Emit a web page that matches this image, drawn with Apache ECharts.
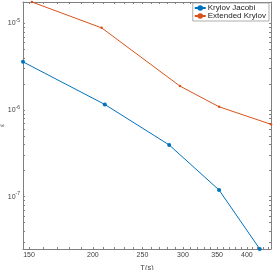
<!DOCTYPE html>
<html><head><meta charset="utf-8">
<script src="https://cdn.jsdelivr.net/npm/echarts@6/dist/echarts.min.js"></script>
<style>html,body{margin:0;padding:0;background:#fff}#c{width:274px;height:270px}</style>
</head><body><div id="c"></div>
<script>
var seriesNames = ['Krylov Jacobi', 'Extended Krylov'];
var jacobiT = [146, 211, 282, 353, 424];
var jacobiErr = [3.6e-6, 1.16e-6, 3.95e-7, 1.19e-7, 2.48e-8];
var extT = [152, 208, 296, 353, 446];
var extErr = [1.77e-5, 8.9e-6, 1.89e-6, 1.09e-6, 6.84e-7];
var xTickLabels = [150, 200, 250, 300, 350, 400];
var xTicks = [150,160,170,180,190,200,210,220,230,240,250,260,270,280,290,300,310,320,330,340,350,360,370,380,390,400,410,420,430,440];
var yTickLabels = [1e-5, 1e-6, 1e-7];
var yTicks = [3e-8,4e-8,5e-8,6e-8,7e-8,8e-8,9e-8,1e-7,2e-7,3e-7,4e-7,5e-7,6e-7,7e-7,8e-7,9e-7,1e-6,2e-6,3e-6,4e-6,5e-6,6e-6,7e-6,8e-6,9e-6,1e-5];

var allT = jacobiT.concat(extT), allE = jacobiErr.concat(extErr);
var xMin = Math.min.apply(null, allT), xMax = Math.max.apply(null, allT);
var yMin = Math.min.apply(null, allE), yMax = Math.max.apply(null, allE);
var axisCol = '#808080', txtCol = '#404040', FONT = 'Liberation Sans, Arial, sans-serif';

function xAx(pos, showLabel) {
  return {type: 'log', logBase: 10, position: pos, min: xMin, max: xMax,
    name: showLabel ? 'T(s)' : '', nameLocation: 'middle', nameGap: 15, nameMoveOverlap: false,
    nameTextStyle: {fontSize: 7.5, color: txtCol, fontFamily: FONT},
    axisLine: {show: true, lineStyle: {color: axisCol, width: 1}},
    axisTick: {show: true, inside: true, length: 2, customValues: xTicks, lineStyle: {color: axisCol}},
    axisLabel: {show: showLabel, customValues: xTickLabels, fontSize: 7, color: txtCol, fontFamily: FONT, margin: 3},
    splitLine: {show: false}, minorTick: {show: false}};
}
function yAx(pos, showLabel) {
  return {type: 'log', logBase: 10, position: pos, min: yMin, max: yMax,
    name: showLabel ? 'ε' : '', nameLocation: 'middle', nameGap: 18, nameRotate: 90, nameMoveOverlap: false,
    nameTextStyle: {fontSize: 6, color: txtCol, fontFamily: 'DejaVu Sans, sans-serif'},
    axisLine: {show: true, lineStyle: {color: axisCol, width: 1}},
    axisTick: {show: true, inside: true, length: 2, customValues: yTicks, lineStyle: {color: axisCol}},
    axisLabel: {show: showLabel, customValues: yTickLabels, fontSize: 7, color: txtCol, fontFamily: FONT, margin: 3,
      formatter: function (v) { return '{b|10}{s|' + Math.round(Math.log10(v)) + '}'; },
      rich: {b: {fontSize: 7, color: txtCol, fontFamily: FONT}, s: {fontSize: 5, color: txtCol, fontFamily: FONT, padding: [0, 0, 5, 0]}}},
    splitLine: {show: false}, minorTick: {show: false}};
}

var chart = echarts.init(document.getElementById('c'), null, {renderer: 'canvas'});
chart.setOption({
  animation: false,
  backgroundColor: '#fff',
  grid: {left: 23, right: 3, top: 2, bottom: 21, containLabel: false, outerBoundsMode: 'none'},
  xAxis: [xAx('bottom', true), xAx('top', false)],
  yAxis: [yAx('left', true), yAx('right', false)],
  legend: {orient: 'vertical', right: 5, top: 3, backgroundColor: '#fff', borderColor: '#999', borderWidth: 0.8,
    padding: [1, 3, 1, 1], itemGap: 0, itemWidth: 11, itemHeight: 7,
    textStyle: {fontSize: 8, color: '#222', fontFamily: FONT, padding: [0, 0, 0, -3]}, data: seriesNames},
  series: [
    {name: seriesNames[0], type: 'line', xAxisIndex: 0, yAxisIndex: 0,
      data: jacobiT.map(function (t, i) { return [t, jacobiErr[i]]; }),
      symbol: 'circle', symbolSize: 4, lineStyle: {color: '#0072BD', width: 1}, itemStyle: {color: '#0072BD'}},
    {name: seriesNames[1], type: 'line', xAxisIndex: 0, yAxisIndex: 0,
      data: extT.map(function (t, i) { return [t, extErr[i]]; }),
      symbol: 'circle', symbolSize: 2.5, lineStyle: {color: '#D95319', width: 1}, itemStyle: {color: '#D95319'}}
  ]
});
</script></body></html>
